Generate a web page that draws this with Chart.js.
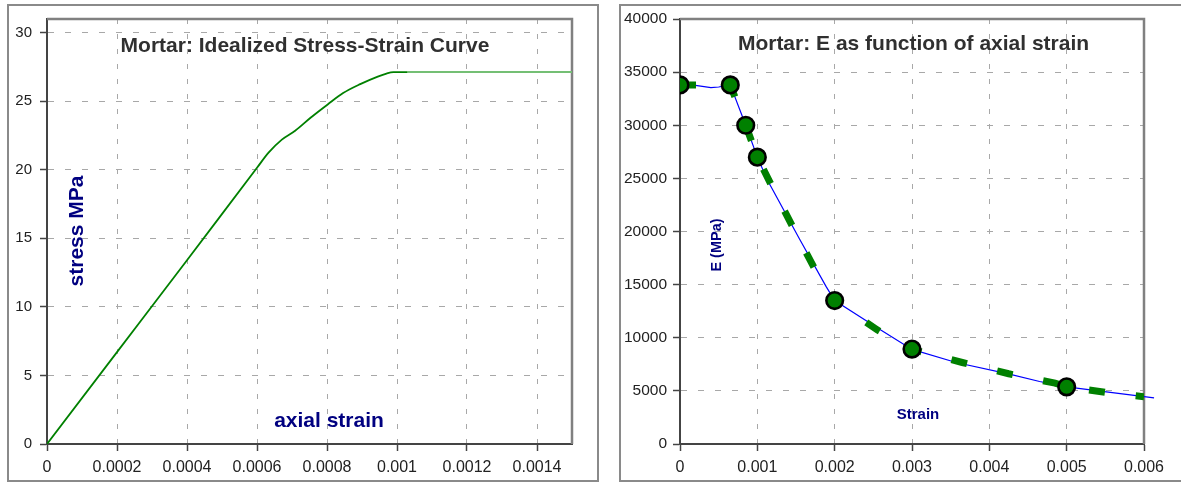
<!DOCTYPE html>
<html>
<head>
<meta charset="utf-8">
<script src="https://cdn.jsdelivr.net/npm/chart.js@4.4.1/dist/chart.umd.min.js"></script>
<style>
  html, body { margin: 0; padding: 0; background: #fff; overflow: hidden; }
  body { width: 1181px; height: 484px; position: relative; }
  canvas { position: absolute; top: 0; }
  #c1 { left: 0; }
  #c2 { left: 600px; }
  .frame { position: absolute; border: 2px solid #8a8a8a; box-sizing: border-box; pointer-events: none; }
</style>
</head>
<body>
<canvas id="c1" width="600" height="484"></canvas>
<canvas id="c2" width="581" height="484"></canvas>
<div class="frame" style="left:7px; top:4px; width:592px; height:478px;"></div>
<div class="frame" style="left:619px; top:4px; width:580px; height:478px;"></div>
<script>
// ---------- data: left chart (stress-strain) ----------
const leftStrain = [0, 0.0002, 0.0004, 0.0006, 0.000633, 0.000671, 0.000709, 0.000753, 0.000802, 0.000846, 0.000895, 0.000945, 0.00097, 0.00099, 0.00103];
const leftStress = [0, 6.7, 13.4, 20.15, 21.25, 22.2, 22.85, 23.8, 24.77, 25.6, 26.25, 26.8, 27.02, 27.12, 27.13];
const plateauStrain = [0.00103, 0.0015];
const plateauStress = [27.13, 27.13];
const leftXTickLabels = ['0', '0.0002', '0.0004', '0.0006', '0.0008', '0.001', '0.0012', '0.0014'];
const leftYTickLabels = ['0', '5', '10', '15', '20', '25', '30'];

// ---------- data: right chart (E vs strain) ----------
const markerStrain = [0, 0.00065, 0.00085, 0.001, 0.002, 0.003, 0.005];
const markerE = [33800, 33800, 30000, 27000, 13500, 8930, 5380];
const blueStrain = [0, 0.0002, 0.0004, 0.0005, 0.00065, 0.00085, 0.001, 0.00113, 0.00154, 0.00189, 0.002, 0.00256, 0.003, 0.00357, 0.00426, 0.00465, 0.005, 0.00613];
const blueE = [33800, 33750, 33550, 33600, 33800, 30000, 27000, 24840, 19360, 14810, 13500, 10900, 8900, 7670, 6580, 5880, 5380, 4350];
const dashStrain = [0, 0.00065, 0.00085, 0.001, 0.0013, 0.00159, 0.001877, 0.002, 0.00255, 0.003, 0.00365, 0.00425, 0.00485, 0.005, 0.00564, 0.006];
const dashE = [33800, 33800, 30000, 27000, 22650, 18570, 14660, 13500, 10740, 8900, 7670, 6610, 5730, 5380, 4730, 4450];
const rightXTickLabels = ['0', '0.001', '0.002', '0.003', '0.004', '0.005', '0.006'];
const rightYTickLabels = ['0', '5000', '10000', '15000', '20000', '25000', '30000', '35000', '40000'];

const FONT = '"Liberation Sans", Arial, Helvetica, sans-serif';
const zip = (xs, ys) => xs.map((x, i) => ({ x: x, y: ys[i] }));

function axis(labels, opts) {
  const values = labels.map(Number);
  return Object.assign({
    type: 'linear',
    afterBuildTicks: (s) => { s.ticks = values.map(v => ({ value: v })); },
    ticks: {
      autoSkip: false, maxRotation: 0, color: '#222',
      font: { family: FONT, size: opts.fontSize },
      padding: opts.padding,
      callback: (v, i) => labels[i]
    },
    grid: {
      color: '#a8a8a8', lineWidth: 1, drawTicks: true, tickLength: 7,
      tickColor: '#444', tickWidth: 1.5
    },
    border: { display: true, color: '#444', width: 2, dash: opts.dash }
  }, opts.extra);
}

function frameAndText(cfg) {
  return {
    id: 'frameText',
    beforeDatasetsDraw(chart) {
      const { ctx, chartArea: a } = chart;
      ctx.save();
      ctx.strokeStyle = '#808080';
      ctx.lineWidth = 2.5;
      ctx.beginPath();
      ctx.moveTo(a.left, a.top);
      ctx.lineTo(a.right, a.top);
      ctx.lineTo(a.right, a.bottom);
      ctx.stroke();
      ctx.restore();
    },
    afterDraw(chart) {
      const ctx = chart.ctx;
      ctx.save();
      ctx.fillStyle = '#303030';
      ctx.font = 'bold 21px ' + FONT;
      ctx.textAlign = 'center';
      ctx.textBaseline = 'alphabetic';
      ctx.fillText(cfg.title, cfg.titleX, cfg.titleY);
      ctx.fillStyle = '#000080';
      ctx.font = 'bold ' + cfg.xFont + 'px ' + FONT;
      ctx.fillText(cfg.xLabel, cfg.xLabelX, cfg.xLabelY);
      ctx.font = 'bold ' + cfg.yFont + 'px ' + FONT;
      ctx.translate(cfg.yLabelX, cfg.yLabelY);
      ctx.rotate(-Math.PI / 2);
      ctx.fillText(cfg.yLabel, 0, 0);
      ctx.restore();
    }
  };
}

// ---------- left chart ----------
new Chart(document.getElementById('c1'), {
  type: 'scatter',
  data: {
    datasets: [
      { data: zip(leftStrain, leftStress), showLine: true, borderColor: '#008000', borderWidth: 1.8, pointRadius: 0, cubicInterpolationMode: 'monotone', fill: false },
      { data: zip(plateauStrain, plateauStress), showLine: true, borderColor: '#74bf74', borderWidth: 2, pointRadius: 0, tension: 0, fill: false }
    ]
  },
  options: {
    responsive: false, animation: false, devicePixelRatio: 1,
    layout: { padding: { left: 0, right: 28, top: 19, bottom: 0 } },
    plugins: { legend: { display: false }, tooltip: { enabled: false } },
    scales: {
      x: axis(leftXTickLabels, { fontSize: 16, padding: 7, dash: [5, 10], extra: { min: 0, max: 0.0015, afterFit: (s) => { s.height = 40; } } }),
      y: axis(leftYTickLabels, { fontSize: 15, padding: 8, dash: [6, 11], extra: { min: 0, max: 31, afterFit: (s) => { s.width = 47; } } })
    }
  },
  plugins: [frameAndText({
    title: 'Mortar: Idealized Stress-Strain Curve', titleX: 305, titleY: 52,
    xLabel: 'axial strain', xLabelX: 329, xLabelY: 427, xFont: 21,
    yLabel: 'stress MPa', yLabelX: 83, yLabelY: 231, yFont: 21
  })]
});

// ---------- right chart ----------
new Chart(document.getElementById('c2'), {
  type: 'scatter',
  data: {
    datasets: [
      { data: zip(markerStrain, markerE), showLine: false, pointRadius: 8.3, pointBackgroundColor: '#008000', pointBorderColor: '#000', pointBorderWidth: 2.6 },
      { data: zip(dashStrain, dashE), showLine: true, borderColor: '#008000', borderWidth: 7, borderDash: [16, 31], borderCapStyle: 'butt', pointRadius: 0, tension: 0, fill: false },
      { data: zip(blueStrain, blueE), showLine: true, borderColor: '#0000ff', borderWidth: 1.2, pointRadius: 0, tension: 0, fill: false, clip: false }
    ]
  },
  options: {
    responsive: false, animation: false, devicePixelRatio: 1,
    layout: { padding: { left: 0, right: 37, top: 19, bottom: 0 } },
    plugins: { legend: { display: false }, tooltip: { enabled: false } },
    scales: {
      x: axis(rightXTickLabels, { fontSize: 16, padding: 7, dash: [5, 10], extra: { min: 0, max: 0.006, afterFit: (s) => { s.height = 40; } } }),
      y: axis(rightYTickLabels, { fontSize: 15.5, padding: 6, dash: [6, 11], extra: { min: 0, max: 40000, afterFit: (s) => { s.width = 80; } } })
    }
  },
  plugins: [frameAndText({
    title: 'Mortar: E as function of axial strain', titleX: 313.5, titleY: 50,
    xLabel: 'Strain', xLabelX: 318, xLabelY: 419, xFont: 15,
    yLabel: 'E (MPa)', yLabelX: 120.5, yLabelY: 245, yFont: 14.5
  })]
});
</script>
</body>
</html>
